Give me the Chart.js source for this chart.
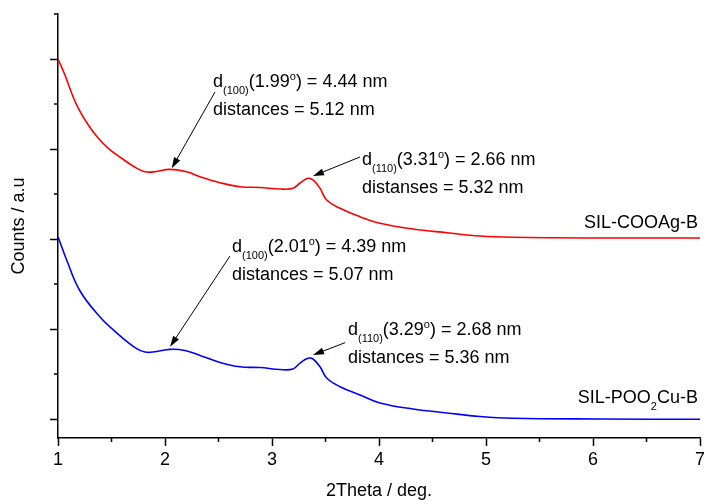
<!DOCTYPE html>
<html>
<head>
<meta charset="utf-8">
<script src="https://cdn.jsdelivr.net/npm/chart.js@4.4.1/dist/chart.umd.min.js"></script>
<style>
html, body { margin: 0; padding: 0; background: #fff; }
#wrap { width: 704px; height: 500px; }
</style>
</head>
<body>
<div id="wrap"><canvas id="xrd" width="704" height="500"></canvas></div>
<script>
const FONT = '"Liberation Sans", Arial, sans-serif';

// curves: 2Theta (deg) and counts (a.u., offset stack)
const redTheta  = [1.000, 1.065, 1.128, 1.190, 1.283, 1.377, 1.470, 1.595, 1.720, 1.813, 1.907, 2.040, 2.203, 2.327, 2.514, 2.701, 2.888, 3.075, 3.196, 3.262, 3.336, 3.383, 3.449, 3.511, 3.636, 3.822, 4.009, 4.318, 4.636, 4.944, 5.252, 6.065, 7.000];
const redCounts = [4.000, 3.822, 3.619, 3.452, 3.267, 3.119, 3.008, 2.897, 2.797, 2.748, 2.748, 2.774, 2.748, 2.692, 2.626, 2.581, 2.572, 2.556, 2.563, 2.622, 2.674, 2.656, 2.563, 2.433, 2.341, 2.248, 2.174, 2.111, 2.070, 2.033, 2.019, 2.011, 2.011];
const blueTheta  = [1.000, 1.081, 1.206, 1.393, 1.561, 1.720, 1.813, 1.907, 2.047, 2.187, 2.327, 2.514, 2.701, 2.888, 3.075, 3.196, 3.262, 3.336, 3.383, 3.449, 3.511, 3.636, 3.822, 4.009, 4.318, 4.636, 4.944, 5.252, 6.065, 7.000];
const blueCounts = [2.026, 1.767, 1.422, 1.133, 0.944, 0.794, 0.744, 0.747, 0.774, 0.761, 0.706, 0.628, 0.580, 0.572, 0.550, 0.556, 0.622, 0.674, 0.667, 0.581, 0.456, 0.359, 0.267, 0.178, 0.111, 0.067, 0.028, 0.008, 0.000, -0.003];

const seriesNames = ['SIL-COOAg-B', 'SIL-POO_{2}Cu-B'];
const xTicks = [1, 1.5, 2, 2.5, 3, 3.5, 4, 4.5, 5, 5.5, 6, 6.5, 7];
const yTicks = [0, 0.5, 1, 1.5, 2, 2.5, 3, 3.5, 4, 4.5];

// peak notes, anchored in data units
const notes = [
  { lines: ['d_{(100)}(1.99^{o}) = 4.44 nm', 'distances = 5.12 nm'], at: [2.449, 3.689], from: [2.467, 3.633], to: [2.063, 2.786] },
  { lines: ['d_{(110)}(3.31^{o}) = 2.66 nm', 'distanses = 5.32 nm'], at: [3.841, 2.822], from: [3.822, 2.911], to: [3.383, 2.700] },
  { lines: ['d_{(100)}(2.01^{o}) = 4.39 nm', 'distances = 5.07 nm'], at: [2.626, 1.859], from: [2.607, 1.811], to: [2.047, 0.803] },
  { lines: ['d_{(110)}(3.29^{o}) = 2.68 nm', 'distances = 5.36 nm'], at: [3.710, 0.933], from: [3.682, 0.848], to: [3.383, 0.711] }
];
const nameAt = [[6.981, 2.122], [6.981, 0.178]];

const pts = (xs, ys) => xs.map((x, i) => ({ x: x, y: ys[i] }));
const isMajor = v => Math.abs(v - Math.round(v)) < 1e-6;

function richParts(str) {
  const out = [];
  str.split(/(_\{[^}]*\}|\^\{[^}]*\})/).forEach(p => {
    if (!p) return;
    if (p[0] === '_') out.push({ t: p.slice(2, -1), k: 'sub' });
    else if (p[0] === '^') out.push({ t: p.slice(2, -1), k: 'sup' });
    else out.push({ t: p, k: '' });
  });
  return out;
}

function drawRich(ctx, str, x, y, align) {
  const parts = richParts(str);
  const font = k => (k ? '11px ' : '18px ') + FONT;
  let w = 0;
  parts.forEach(p => { ctx.font = font(p.k); p.w = ctx.measureText(p.t).width; w += p.w; });
  let cx = align === 'right' ? x - w : x;
  parts.forEach(p => {
    ctx.font = font(p.k);
    ctx.fillText(p.t, cx, y + (p.k === 'sub' ? 7 : p.k === 'sup' ? -7 : 0));
    cx += p.w;
  });
}

const extras = {
  id: 'extras',
  afterDraw(chart) {
    const ctx = chart.ctx, sx = chart.scales.x, sy = chart.scales.y;
    ctx.save();
    ctx.strokeStyle = '#000';
    ctx.fillStyle = '#000';

    // minor ticks
    ctx.lineWidth = 1.5;
    ctx.beginPath();
    xTicks.filter(v => !isMajor(v)).forEach(v => {
      const px = sx.getPixelForValue(v);
      ctx.moveTo(px, sx.top); ctx.lineTo(px, sx.top + 4);
    });
    yTicks.filter(v => !isMajor(v)).forEach(v => {
      const py = sy.getPixelForValue(v);
      ctx.moveTo(sy.right, py); ctx.lineTo(sy.right - 4, py);
    });
    ctx.stroke();

    ctx.textAlign = 'left';
    ctx.textBaseline = 'alphabetic';

    // notes with arrows
    notes.forEach(n => {
      const tx = sx.getPixelForValue(n.at[0]), ty = sy.getPixelForValue(n.at[1]);
      n.lines.forEach((l, i) => drawRich(ctx, l, tx, ty + i * 28, 'left'));
      const x0 = sx.getPixelForValue(n.from[0]), y0 = sy.getPixelForValue(n.from[1]);
      const x1 = sx.getPixelForValue(n.to[0]), y1 = sy.getPixelForValue(n.to[1]);
      const a = Math.atan2(y1 - y0, x1 - x0);
      ctx.lineWidth = 1;
      ctx.beginPath();
      ctx.moveTo(x0, y0);
      ctx.lineTo(x1 - 8 * Math.cos(a), y1 - 8 * Math.sin(a));
      ctx.stroke();
      ctx.beginPath();
      ctx.moveTo(x1, y1);
      ctx.lineTo(x1 - 11 * Math.cos(a) + 3.5 * Math.sin(a), y1 - 11 * Math.sin(a) - 3.5 * Math.cos(a));
      ctx.lineTo(x1 - 11 * Math.cos(a) - 3.5 * Math.sin(a), y1 - 11 * Math.sin(a) + 3.5 * Math.cos(a));
      ctx.closePath();
      ctx.fill();
    });

    // series names
    seriesNames.forEach((s, i) => {
      drawRich(ctx, s, sx.getPixelForValue(nameAt[i][0]), sy.getPixelForValue(nameAt[i][1]), 'right');
    });
    ctx.restore();
  }
};

new Chart(document.getElementById('xrd'), {
  type: 'line',
  data: {
    datasets: [
      { label: seriesNames[0], data: pts(redTheta, redCounts), borderColor: '#ff0000', borderWidth: 1.6, pointRadius: 0, fill: false, tension: 0.4 },
      { label: seriesNames[1], data: pts(blueTheta, blueCounts), borderColor: '#0000ff', borderWidth: 1.6, pointRadius: 0, fill: false, tension: 0.4 }
    ]
  },
  options: {
    responsive: false,
    animation: false,
    devicePixelRatio: 1,
    layout: { padding: { top: 14, right: 4, left: 0, bottom: 0 } },
    plugins: { legend: { display: false }, tooltip: { enabled: false } },
    scales: {
      x: {
        type: 'linear', min: 1, max: 7,
        afterBuildTicks: s => { s.ticks = xTicks.map(v => ({ value: v })); },
        afterFit: s => { s.height = 62; s.paddingLeft = 0; s.paddingRight = 0; },
        border: { color: '#000', width: 1.5 },
        grid: { drawOnChartArea: false, drawTicks: true, tickLength: 8, tickWidth: 1.5,
                tickColor: c => (c.tick && isMajor(c.tick.value)) ? '#000' : 'rgba(0,0,0,0)' },
        ticks: { autoSkip: false, maxRotation: 0, padding: 3, color: '#000',
                 font: { family: FONT, size: 18 },
                 callback: v => isMajor(v) ? String(Math.round(v)) : '' },
        title: { display: true, text: '2Theta / deg.', color: '#000',
                 font: { family: FONT, size: 18, lineHeight: 1 }, padding: { top: 0, bottom: 0 } }
      },
      y: {
        type: 'linear', min: -0.211, max: 4.5,
        afterBuildTicks: s => { s.ticks = yTicks.map(v => ({ value: v })); },
        afterFit: s => { s.width = 58; },
        border: { color: '#000', width: 1.5 },
        grid: { drawOnChartArea: false, drawTicks: true, tickLength: 8, tickWidth: 1.5,
                tickColor: c => (c.tick && isMajor(c.tick.value)) ? '#000' : 'rgba(0,0,0,0)' },
        ticks: { display: false },
        title: { display: true, text: 'Counts / a.u', color: '#000',
                 font: { family: FONT, size: 18, lineHeight: 1 }, padding: { top: 10, bottom: 0 } }
      }
    }
  },
  plugins: [extras]
});
</script>
</body>
</html>
